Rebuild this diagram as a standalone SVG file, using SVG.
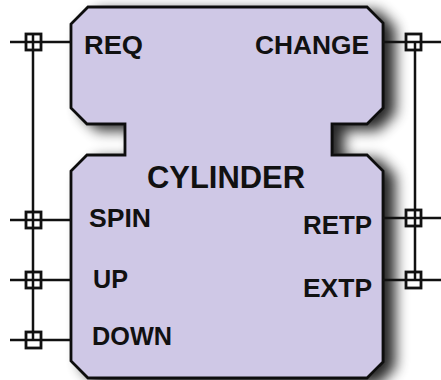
<svg xmlns="http://www.w3.org/2000/svg" width="441" height="380" viewBox="0 0 441 380">
<defs>
<filter id="shadow" x="-20%" y="-20%" width="140%" height="140%">
<feGaussianBlur in="SourceAlpha" stdDeviation="7"/>
<feOffset dx="11" dy="5" result="b"/>
<feComponentTransfer><feFuncA type="linear" slope="0.85"/></feComponentTransfer>
<feMerge><feMergeNode/><feMergeNode in="SourceGraphic"/></feMerge>
</filter>
<style>
.body{fill:#CFC8E6;stroke:#111;stroke-width:2.8;stroke-linejoin:miter}
.lbl{font-family:"Liberation Sans",Arial,sans-serif;font-weight:bold;font-size:25px;fill:#111}
.title{font-size:31px}
.wire{stroke:#111;stroke-width:2.5;fill:none}
.sq{stroke:#111;stroke-width:2.8;fill:none}
</style>
</defs>
<rect width="441" height="380" fill="#fff"/>
<g id="cylinder">
<path class="body" filter="url(#shadow)" d="M88,7 L367,7 L383,23 L383,108 L367,124 L332,124 L332,155 L367,155 L383,171 L383,362 L367,378 L88,378 L71,361 L71,171 L87,155 L125,155 L125,124 L87,124 L71,108 L71,24 Z"/>
<text class="lbl title" x="147" y="188" textLength="158" lengthAdjust="spacingAndGlyphs">CYLINDER</text>
<text class="lbl" x="84" y="54" textLength="59" lengthAdjust="spacingAndGlyphs">REQ</text>
<text class="lbl" x="255" y="54" textLength="114" lengthAdjust="spacingAndGlyphs">CHANGE</text>
<text class="lbl" x="89" y="227" textLength="62" lengthAdjust="spacingAndGlyphs">SPIN</text>
<text class="lbl" x="93" y="288" textLength="35" lengthAdjust="spacingAndGlyphs">UP</text>
<text class="lbl" x="92" y="345" textLength="80" lengthAdjust="spacingAndGlyphs">DOWN</text>
<text class="lbl" x="303" y="234" textLength="69" lengthAdjust="spacingAndGlyphs">RETP</text>
<text class="lbl" x="303" y="297" textLength="69" lengthAdjust="spacingAndGlyphs">EXTP</text>
</g>
<g id="connectors">
<path class="wire" d="M33,34 V340 M10,42 H71 M10,220 H71 M10,280 H71 M10,340 H71"/>
<rect class="sq" x="26" y="34" width="15" height="16"/>
<rect class="sq" x="26" y="212" width="15" height="16"/>
<rect class="sq" x="26" y="272" width="15" height="16"/>
<rect class="sq" x="26" y="332" width="15" height="16"/>
<path class="wire" d="M415,42 V280 M383,42 H441 M383,218 H441 M383,280 H441"/>
<rect class="sq" x="406" y="34" width="15" height="16"/>
<rect class="sq" x="406" y="210" width="15" height="16"/>
<rect class="sq" x="406" y="272" width="15" height="16"/>
</g>
</svg>
